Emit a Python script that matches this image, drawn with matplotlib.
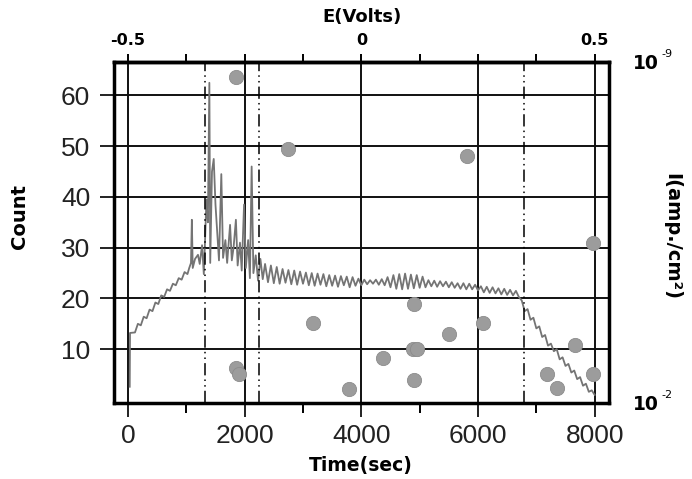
import matplotlib
matplotlib.use("Agg")
import matplotlib.pyplot as plt
from matplotlib.ticker import FixedLocator, NullLocator

# counts vs time (sec), zigzag trace
line_time = [30, 35, 120, 170, 220, 270, 320, 370, 420, 470, 520, 570, 620, 670,
             720, 770, 820, 870, 920, 970, 1020, 1050,
             1080, 1095, 1110, 1150, 1200, 1230, 1270, 1300, 1320, 1345, 1370,
             1395, 1410, 1440, 1470, 1500, 1530, 1560, 1600, 1630, 1670, 1700,
             1750, 1780, 1810, 1850, 1880, 1920, 1950, 1990, 2020, 2060, 2090,
             2120, 2150, 2190, 2230, 2270, 2310,
             2350, 2400, 2450, 2500, 2550, 2600, 2650, 2700, 2750, 2800, 2850,
             2900, 2950, 3000, 3050, 3100, 3150, 3200, 3250, 3300, 3350, 3400,
             3450, 3500, 3550, 3600, 3650, 3700, 3750, 3800, 3850, 3900, 3950,
             4000, 4050, 4100, 4150, 4200, 4250, 4300, 4350, 4400, 4450, 4500,
             4550, 4600, 4650, 4700, 4750, 4800, 4850, 4900, 4950, 5000, 5050,
             5100, 5150, 5200, 5250, 5300, 5350, 5400, 5450, 5500, 5550, 5600,
             5650, 5700, 5750, 5800, 5850, 5900, 5950, 6000, 6050, 6100, 6150,
             6200, 6250, 6300, 6350, 6400, 6450, 6500, 6550, 6600, 6650, 6700,
             6750, 6800, 6850, 6900, 6950, 7000, 7050, 7100, 7150, 7200, 7250,
             7300, 7350, 7400, 7450, 7500, 7550, 7600, 7650, 7700, 7750, 7800,
             7850, 7900, 7950, 8000]
line_count = [2.6, 13.2, 13.3, 15.0, 14.7, 16.4, 16.1, 17.8, 17.5, 19.2, 18.9, 20.6,
              20.3, 21.8, 21.5, 22.9, 22.6, 24.0, 23.7, 25.2, 24.8, 26.0,
              27.0, 35.5, 26.0, 27.8, 28.6, 26.8, 30.5, 24.8, 31.0, 39.5, 35.0,
              62.5, 27.0, 45.0, 47.5, 38.5, 33.0, 27.5, 44.5, 28.0, 31.5, 27.0,
              34.5, 27.5, 30.0, 35.5, 26.5, 31.0, 25.5, 38.5, 26.0, 31.5, 24.0,
              46.0, 25.0, 28.5, 23.5, 27.8, 23.8,
              26.8, 23.2, 26.5, 23.0, 26.2, 22.9, 25.8, 23.1, 25.6, 22.8, 25.5,
              22.7, 25.3, 22.9, 25.1, 22.6, 25.0, 22.5, 24.9, 22.7, 24.8, 22.4,
              24.6, 22.5, 24.5, 22.3, 24.4, 22.6, 24.3, 22.2, 24.2, 22.5, 23.9,
              22.6, 23.7, 22.8, 23.6, 22.9, 23.7, 22.7, 23.8, 22.6, 24.2, 22.2,
              24.6, 21.9, 24.8, 21.8, 24.9, 21.9, 24.7, 22.0, 24.6, 22.1, 24.3,
              22.2, 23.6, 22.4, 23.5, 22.3, 23.4, 22.4, 23.3, 22.2, 23.2, 22.1,
              23.0, 21.9, 23.0, 21.8, 22.9, 21.8, 22.7, 21.6, 22.4, 21.2, 22.3,
              21.1, 22.2, 21.0, 22.0, 20.8, 21.9, 20.7, 21.7, 20.6, 21.5, 20.3,
              19.6, 17.5, 17.9, 15.8, 16.2, 14.1, 14.5, 12.4, 12.8, 10.7, 11.1,
              9.6, 10.0, 8.0, 8.4, 6.7, 7.1, 5.4, 5.8, 4.1, 4.5, 2.8,
              3.2, 1.6, 1.9, 1.0]

# scattered points (gray dots)
pt_time = [1851, 2742, 5810, 7970, 3170, 1850, 1905, 3790, 4370, 4900,
           4890, 4950, 4900, 5500, 6080, 7660, 7180, 7350, 7970]
pt_count = [63.6, 49.4, 48.1, 30.9, 15.1, 6.2, 5.2, 2.1, 8.2, 19.0,
            10.0, 10.0, 3.9, 12.9, 15.1, 10.8, 5.2, 2.3, 5.2]

# dash-dot markers
marker_time = [1320, 2245, 6790]

x_major = [0, 2000, 4000, 6000, 8000]
x_minor = [1000, 3000, 5000, 7000]
y_major = [10, 20, 30, 40, 50, 60]
e_major = [-0.5, 0, 0.5]
e_minor = [-0.375, -0.25, -0.125, 0.125, 0.25, 0.375]
e_labels = ["-0.5", "0", "0.5"]
i_ticks = [1e-9, 1e-2]
i_exponents = ["-9", "-2"]

fig = plt.figure(figsize=(6.92, 4.79), dpi=100)
ax = fig.add_axes([0.1647, 0.1587, 0.7153, 0.7119])

ax.plot(line_time, line_count, color="#747474", lw=1.3, zorder=2)
ax.scatter(pt_time, pt_count, s=105, color="#9c9c9c", edgecolors="#8c8c8c",
           linewidths=0.6, zorder=4)
for t in marker_time:
    ax.axvline(t, color="black", lw=1.1, linestyle=(0, (8, 2.7, 1, 2.7, 1, 2.7)),
               zorder=3)

ax.set_xlim(-240, 8245)
ax.set_ylim(-0.6, 66.6)
ax.set_xticks(x_major)
ax.set_xticks(x_minor, minor=True)
ax.set_yticks(y_major)
ax.set_axisbelow(True)
ax.grid(True, which="major", color="#111111", lw=1.4)

for sp in ax.spines.values():
    sp.set_linewidth(2.5)
    sp.set_color("black")

ax.tick_params(axis="x", which="major", direction="out", length=10, width=1.4,
               pad=5, colors="#222222")
ax.tick_params(axis="x", which="minor", direction="out", length=7, width=1.4)
ax.tick_params(axis="y", which="major", direction="out", length=10, width=1.4,
               left=True, right=True, pad=7, colors="#222222")
for lab in ax.get_xticklabels() + ax.get_yticklabels():
    lab.set_fontfamily("Liberation Sans")
    lab.set_fontsize(19)

# top axis: potential
secax = ax.secondary_xaxis("top", functions=(lambda t: (t - 4000) / 8000,
                                             lambda e: e * 8000 + 4000))
secax.xaxis.set_major_locator(FixedLocator(e_major))
secax.xaxis.set_minor_locator(FixedLocator(e_minor))
secax.set_xticklabels(e_labels, fontfamily="DejaVu Sans", fontweight="bold",
                      fontsize=11.5)
secax.tick_params(which="both", direction="out", length=6, width=1.4, pad=4)
secax.spines["top"].set_linewidth(2.5)

# right axis: current density (log)
rax = ax.twinx()
rax.set_yscale("log")
rax.set_ylim(1e-2, 1e-9)
rax.yaxis.set_major_locator(FixedLocator(i_ticks))
rax.yaxis.set_minor_locator(NullLocator())
rax.set_yticklabels(["10", "10"], fontsize=13.5, fontweight="bold",
                    fontfamily="DejaVu Sans")
rax.tick_params(axis="y", length=0, pad=17)
for sp in rax.spines.values():
    sp.set_visible(False)
for tick, ex in zip(i_ticks, i_exponents):
    rax.annotate(ex, xy=(1.0, tick), xycoords=("axes fraction", "data"),
                 xytext=(38, 6), textcoords="offset points", ha="left",
                 va="center", fontsize=8, family="DejaVu Sans")

ax.text(-0.19, 0.548, "Count", transform=ax.transAxes, rotation=90,
        ha="center", va="center", fontsize=14, fontweight="bold",
        family="DejaVu Sans")
ax.text(0.499, -0.182, "Time(sec)", transform=ax.transAxes, ha="center",
        va="center", fontsize=13.5, fontweight="bold", family="DejaVu Sans")
ax.text(0.501, 1.132, "E(Volts)", transform=ax.transAxes, ha="center",
        va="center", fontsize=13, fontweight="bold", family="DejaVu Sans")
ax.text(1.127, 0.487, "I(amp./cm²)", transform=ax.transAxes, rotation=-90,
        ha="center", va="center", fontsize=14, fontweight="bold",
        family="DejaVu Sans")

fig.savefig("out.png", dpi=100, facecolor="white")
